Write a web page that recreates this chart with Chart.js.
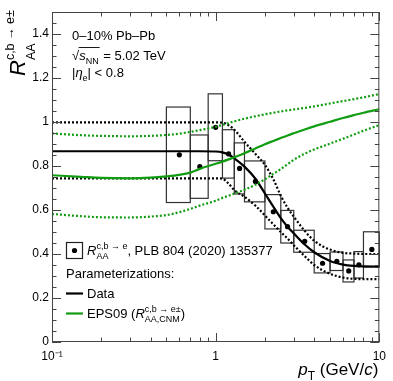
<!DOCTYPE html>
<html>
<head>
<meta charset="utf-8">
<script src="https://cdn.jsdelivr.net/npm/chart.js@4"></script>
<style>
  html, body { margin: 0; padding: 0; background: #fff; }
  #wrap { width: 393px; height: 381px; }
</style>
</head>
<body>
<div id="wrap"><canvas id="raaChart" width="393" height="381"></canvas></div>
<script>
// measured R_AA, bins and systematic boxes
const ptLow    = [0.5, 0.7, 0.9, 1.1, 1.3, 1.5, 2.0, 2.5, 3.0, 4.0, 5.0, 6.0, 7.0, 8.0];
const ptHigh   = [0.7, 0.9, 1.1, 1.3, 1.5, 2.0, 2.5, 3.0, 4.0, 5.0, 6.0, 7.0, 8.0, 10.0];
const ptCenter = [0.6, 0.8, 1.0, 1.2, 1.4, 1.75, 2.25, 2.75, 3.5, 4.5, 5.5, 6.5, 7.5, 9.0];
const raa      = [0.851, 0.797, 0.976, 0.855, 0.789, 0.730, 0.592, 0.524, 0.458, 0.358, 0.367, 0.323, 0.351, 0.421];
const raaSys   = [0.217, 0.144, 0.152, 0.110, 0.116, 0.093, 0.078, 0.074, 0.050, 0.044, 0.042, 0.050, 0.060, 0.080];

// parameterization curves sampled at these pT values
const curvePt = [0.1, 0.15, 0.2, 0.3, 0.4, 0.5, 0.6, 0.7, 0.8, 1.0, 1.1, 1.2, 1.3, 1.5, 1.75, 2.0, 2.25, 2.5, 2.75, 3.0, 3.5, 4.0, 5.0, 6.0, 7.0, 8.0, 10.0];
const fitData  = [0.867, 0.867, 0.867, 0.867, 0.867, 0.867, 0.867, 0.867, 0.867, 0.866, 0.862, 0.852, 0.835, 0.797, 0.742, 0.675, 0.615, 0.563, 0.524, 0.494, 0.443, 0.408, 0.368, 0.352, 0.346, 0.344, 0.343];
const fitUp    = [0.998, 0.998, 0.998, 0.998, 0.998, 0.998, 0.998, 0.998, 0.998, 0.998, 0.997, 0.985, 0.965, 0.910, 0.855, 0.805, 0.740, 0.665, 0.610, 0.570, 0.505, 0.460, 0.420, 0.405, 0.402, 0.400, 0.400];
const fitLow   = [0.744, 0.744, 0.744, 0.744, 0.744, 0.744, 0.744, 0.744, 0.744, 0.744, 0.742, 0.720, 0.690, 0.660, 0.620, 0.575, 0.535, 0.500, 0.470, 0.440, 0.390, 0.350, 0.310, 0.293, 0.287, 0.286, 0.286];
const eps      = [0.758, 0.751, 0.746, 0.744, 0.747, 0.753, 0.760, 0.770, 0.787, 0.810, 0.820, 0.830, 0.840, 0.858, 0.880, 0.899, 0.914, 0.927, 0.939, 0.949, 0.966, 0.980, 1.001, 1.018, 1.031, 1.042, 1.058];
const epsUp    = [0.948, 0.940, 0.937, 0.935, 0.937, 0.941, 0.947, 0.955, 0.963, 0.978, 0.987, 0.995, 1.003, 1.015, 1.026, 1.035, 1.042, 1.048, 1.053, 1.057, 1.064, 1.071, 1.084, 1.095, 1.104, 1.112, 1.127];
const epsLow   = [0.582, 0.572, 0.567, 0.566, 0.570, 0.577, 0.590, 0.605, 0.620, 0.642, 0.655, 0.665, 0.675, 0.692, 0.715, 0.740, 0.764, 0.786, 0.808, 0.828, 0.856, 0.875, 0.902, 0.924, 0.943, 0.960, 0.986];

const xTickLabels = { '0.1': '10\u207B\u00B9', '1': '1', '10': '10' };

const FONT = '"Liberation Sans", Arial, Helvetica, sans-serif';
const GREEN = '#129c12';

const pts = (ys) => curvePt.map((x, i) => ({ x: x, y: ys[i] }));

const curve = (ys, color, dotted) => ({
  data: pts(ys),
  showLine: true,
  pointRadius: 0,
  borderColor: color,
  borderWidth: 2.2,
  borderDash: dotted ? [2, 2] : [],
  cubicInterpolationMode: 'monotone',
  fill: false
});

// draws text with italic pieces and stacked sub/superscripts
function rich(ctx, x, y, parts, size) {
  let cx = x;
  ctx.textBaseline = 'alphabetic';
  ctx.textAlign = 'left';
  for (const p of parts) {
    if (p.t !== undefined) {
      ctx.font = (p.i ? 'italic ' : '') + (p.s || size) + 'px ' + FONT;
      ctx.fillText(p.t, cx, y);
      cx += ctx.measureText(p.t).width;
    } else {
      const ss = p.ss || size * 0.66;
      let w = 0;
      if (p.sup) {
        ctx.font = ss + 'px ' + FONT;
        ctx.fillText(p.sup, cx, y - (p.supY || size * 0.45));
        w = Math.max(w, ctx.measureText(p.sup).width);
      }
      if (p.sub) {
        ctx.font = ss + 'px ' + FONT;
        ctx.fillText(p.sub, cx, y + (p.subY || size * 0.3));
        w = Math.max(w, ctx.measureText(p.sub).width);
      }
      cx += w;
    }
  }
  return cx;
}

const decorations = {
  id: 'decorations',
  beforeDatasetsDraw(chart) {
    const { ctx, scales: { x, y } } = chart;
    ctx.save();
    ctx.strokeStyle = '#333';
    ctx.lineWidth = 1.2;
    for (let i = 0; i < raa.length; i++) {
      const x0 = x.getPixelForValue(ptLow[i]);
      const x1 = x.getPixelForValue(ptHigh[i]);
      const y0 = y.getPixelForValue(raa[i] + raaSys[i]);
      const y1 = y.getPixelForValue(raa[i] - raaSys[i]);
      ctx.strokeRect(x0, y0, x1 - x0, y1 - y0);
    }
    ctx.restore();
  },
  afterDraw(chart) {
    const { ctx, chartArea: a, scales: { x, y } } = chart;
    ctx.save();
    // frame
    ctx.strokeStyle = '#444';
    ctx.lineWidth = 1;
    ctx.strokeRect(a.left + 0.5, a.top + 0.5, a.right - a.left - 1, a.bottom - a.top - 1);
    ctx.beginPath();
    // y ticks, left and right, pointing inward
    for (let k = 0; k <= 30; k++) {
      const v = k * 0.05;
      const py = Math.round(y.getPixelForValue(v)) + 0.5;
      const len = (k % 4 === 0) ? 9 : 4.5;
      ctx.moveTo(a.left, py); ctx.lineTo(a.left + len, py);
      ctx.moveTo(a.right, py); ctx.lineTo(a.right - len, py);
    }
    // x ticks, bottom and top
    [0.1, 1].forEach(d => {
      for (let m = 1; m <= 10; m++) {
        const v = d * m;
        const px = Math.round(x.getPixelForValue(v)) + 0.5;
        const len = (m === 1 || m === 10) ? 9 : 4.5;
        ctx.moveTo(px, a.bottom); ctx.lineTo(px, a.bottom - len);
        ctx.moveTo(px, a.top); ctx.lineTo(px, a.top + len);
      }
    });
    ctx.stroke();

    ctx.fillStyle = '#000';
    // header text
    rich(ctx, 72, 40, [{ t: '0\u201310% Pb\u2013Pb' }], 13);
    ctx.font = '13px ' + FONT;
    ctx.fillText('\u221A', 72, 60);
    const sx = 72 + ctx.measureText('\u221A').width;
    const ex = rich(ctx, sx, 60, [{ t: 's', i: true }, { sub: 'NN', ss: 9 }], 13);
    ctx.beginPath();
    ctx.lineWidth = 0.9;
    ctx.strokeStyle = '#000';
    ctx.moveTo(sx - 0.5, 47.5); ctx.lineTo(ex + 1, 47.5);
    ctx.stroke();
    rich(ctx, ex + 1, 60, [{ t: ' = 5.02 TeV' }], 13);
    rich(ctx, 72, 77, [{ t: '|' }, { t: '\u03B7', i: true }, { sub: 'e', ss: 9 }, { t: '| < 0.8' }], 13);

    // legend
    ctx.lineWidth = 1.2;
    ctx.strokeStyle = '#222';
    ctx.strokeRect(66.5, 242.5, 16, 16);
    ctx.beginPath();
    ctx.arc(74.5, 250.5, 2.6, 0, Math.PI * 2);
    ctx.fill();
    rich(ctx, 87, 255, [{ t: 'R', i: true }, { sup: 'c,b \u2192 e', sub: 'AA', ss: 9, supY: 6.5, subY: 4 }, { t: ', PLB 804 (2020) 135377' }], 13);
    rich(ctx, 66, 278, [{ t: 'Parameterizations:' }], 13);
    ctx.lineWidth = 2.2;
    ctx.strokeStyle = '#000';
    ctx.beginPath(); ctx.moveTo(66, 293.5); ctx.lineTo(83, 293.5); ctx.stroke();
    rich(ctx, 87, 298, [{ t: 'Data' }], 13);
    ctx.strokeStyle = GREEN;
    ctx.beginPath(); ctx.moveTo(66, 313.5); ctx.lineTo(83, 313.5); ctx.stroke();
    rich(ctx, 87, 318, [{ t: 'EPS09 (' }, { t: 'R', i: true }, { sup: 'c,b \u2192 e\u00B1', sub: 'AA,CNM', ss: 9, supY: 6.5, subY: 4 }, { t: ')' }], 13);

    // axis titles
    ctx.font = 'italic 17px ' + FONT;
    const pW = ctx.measureText('p').width;
    ctx.font = '12px ' + FONT;
    const tW = ctx.measureText('T').width;
    ctx.font = '17px ' + FONT;
    let restW = ctx.measureText(' (GeV/').width + ctx.measureText(')').width;
    ctx.font = 'italic 17px ' + FONT;
    restW += ctx.measureText('c').width;
    const titleX = a.right - (pW + tW + restW) - 1;
    rich(ctx, titleX, 375, [{ t: 'p', i: true }, { sub: 'T', ss: 12, subY: 5 }, { t: ' (GeV/' }, { t: 'c', i: true }, { t: ')' }], 17);

    ctx.translate(25, 76);
    ctx.rotate(-Math.PI / 2);
    rich(ctx, 0, 0, [{ t: 'R', i: true, s: 22 }, { sup: 'c,b \u2192 e\u00B1', sub: 'AA', ss: 12.5, supY: 11, subY: 10 }], 22);
    ctx.restore();
  }
};

const ctx = document.getElementById('raaChart').getContext('2d');
new Chart(ctx, {
  type: 'scatter',
  data: {
    datasets: [
      curve(epsUp, GREEN, true),
      curve(epsLow, GREEN, true),
      curve(eps, GREEN, false),
      curve(fitUp, '#000', true),
      curve(fitLow, '#000', true),
      curve(fitData, '#000', false),
      {
        data: ptCenter.map((x, i) => ({ x: x, y: raa[i] })),
        pointRadius: 2.6,
        pointBackgroundColor: '#000',
        pointBorderWidth: 0,
        showLine: false
      }
    ]
  },
  options: {
    responsive: false,
    animation: false,
    devicePixelRatio: 1,
    layout: { padding: { top: 12, right: 12, left: 0, bottom: 0 } },
    plugins: { legend: { display: false }, tooltip: { enabled: false } },
    scales: {
      x: {
        type: 'logarithmic',
        min: 0.1,
        max: 10,
        grid: { display: false, drawTicks: false },
        border: { display: false },
        ticks: {
          autoSkip: false,
          maxRotation: 0,
          padding: 7,
          color: '#000',
          font: { family: FONT, size: 12 },
          callback: (v) => {
            const l = Math.log10(v);
            if (Math.abs(l - Math.round(l)) > 1e-6) return '';
            return xTickLabels[String(Math.pow(10, Math.round(l)))] || '';
          }
        },
        afterFit: (s) => { s.height = 39; }
      },
      y: {
        min: 0,
        max: 1.5,
        grid: { display: false, drawTicks: false },
        border: { display: false },
        ticks: {
          stepSize: 0.2,
          padding: 3,
          color: '#000',
          font: { family: FONT, size: 12 },
          callback: (v) => {
            const k = v / 0.2;
            if (Math.abs(k - Math.round(k)) > 1e-6) return '';
            return String(Math.round(v * 10) / 10);
          }
        },
        afterFit: (s) => { s.width = 52; }
      }
    }
  },
  plugins: [decorations]
});
</script>
</body>
</html>
